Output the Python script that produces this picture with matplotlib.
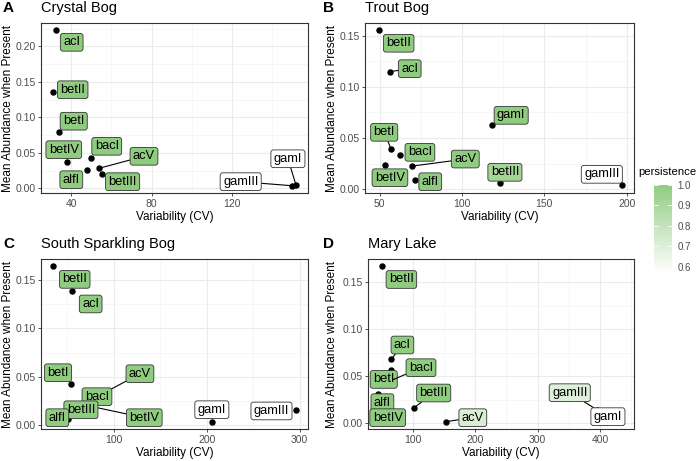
import numpy as np
import matplotlib
matplotlib.use("Agg")
import matplotlib.pyplot as plt
from matplotlib.colors import LinearSegmentedColormap, Normalize
from matplotlib.ticker import AutoMinorLocator, MultipleLocator

plt.rcParams['font.family'] = ['Liberation Sans', 'DejaVu Sans']

# data per lake: clade, variability (CV), mean abundance when present, persistence
clades_a = ["acI", "betII", "betI", "betIV", "alfI", "bacI", "acV", "betIII", "gamI", "gamIII"]
cv_a = [32.4, 30.9, 33.9, 37.9, 48.1, 49.8, 53.9, 55.2, 151.7, 149.6]
abund_a = [0.2225, 0.136, 0.079, 0.0375, 0.0262, 0.0423, 0.0282, 0.0206, 0.005, 0.0037]
pers_a = [1.0, 1.0, 1.0, 1.0, 1.0, 1.0, 1.0, 1.0, 0.57, 0.57]

clades_b = ["betII", "acI", "gamI", "betI", "bacI", "betIV", "acV", "alfI", "betIII", "gamIII"]
cv_b = [49.4, 56.1, 118.3, 57.0, 62.3, 53.2, 69.8, 71.6, 123.0, 197.0]
abund_b = [0.1556, 0.115, 0.0624, 0.0389, 0.033, 0.0238, 0.0225, 0.0091, 0.0056, 0.0036]
pers_b = [1.0, 1.0, 1.0, 1.0, 1.0, 1.0, 1.0, 1.0, 0.92, 0.57]

clades_c = ["betII", "acI", "betI", "acV", "bacI", "betIV", "betIII", "alfI", "gamI", "gamIII"]
cv_c = [34.1, 54.5, 53.8, 81.7, 74.2, 67.0, 58.0, 50.9, 205.4, 296.5]
abund_c = [0.1637, 0.1384, 0.0429, 0.0295, 0.0244, 0.0213, 0.013, 0.0069, 0.0038, 0.0159]
pers_c = [1.0, 1.0, 1.0, 1.0, 1.0, 1.0, 1.0, 1.0, 0.57, 0.57]

clades_d = ["betII", "acI", "betI", "bacI", "alfI", "betIV", "betIII", "acV", "gamIII", "gamI"]
cv_d = [50.8, 65.3, 64.2, 67.8, 44.4, 46.5, 101.1, 152.6, 394.9, 400.0]
abund_d = [0.167, 0.0683, 0.0561, 0.0462, 0.0313, 0.0089, 0.016, 0.0014, 0.0142, 0.0057]
pers_d = [1.0, 1.0, 1.0, 1.0, 1.0, 1.0, 1.0, 0.72, 0.70, 0.57]

# label placement (pixel offsets from the point) and which ones get a segment
offs_a = [(16, -12), (20, 2), (15, 11), (-3, 12), (-16, -10), (16, 12), (45, 12), (21, -8), (-8, 26), (-51, 4)]
seg_a = {"acV", "gamI", "gamIII"}
offs_b = [(20, -13), (20, 3), (19, 10), (-7, 17), (20, 3), (5, -13), (53, 7), (15, -2), (5, 11), (-20, 11)]
seg_b = {"acI", "betI", "acV"}
offs_c = [(22, -13), (19, -13), (-13, 11), (43, 23), (7, 5), (61, -13), (6, 3), (-11, 1), (0, 12), (-25, -1)]
seg_c = {"acV", "betIV"}
offs_d = [(19, -13), (11, 14), (-7, -9), (28, 12), (4, -9), (8, -3), (20, 15), (27, 4), (-27, 17), (8, 1)]
seg_d = {"acI", "bacI", "betIII", "acV", "gamIII"}

green = "#90cc80"
cmap = LinearSegmentedColormap.from_list("pers", ["white", green])
norm = Normalize(vmin=0.57, vmax=1.0)

W, H = 700, 461
fig = plt.figure(figsize=(7, 4.61), dpi=100)


def ax_at(l, r, t, b):
    return fig.add_axes([l / W, 1 - b / H, (r - l) / W, (b - t) / H])


panels = [
    ("A", 3, 8, "Crystal Bog", (41, 308, 23, 193), clades_a, cv_a, abund_a, pers_a, offs_a, seg_a,
     (25.1, 157.7), (-0.0066, 0.2328), 40, 0.05),
    ("B", 323, 332, "Trout Bog", (365, 634, 23, 193), clades_b, cv_b, abund_b, pers_b, offs_b, seg_b,
     (41.1, 204.4), (-0.0039, 0.1627), 50, 0.05),
    ("C", 3, 8, "South Sparkling Bog", (41, 308, 259, 429), clades_c, cv_c, abund_c, pers_c, offs_c, seg_c,
     (21.5, 308.9), (-0.0037, 0.1713), 100, 0.05),
    ("D", 323, 332, "Mary Lake", (368, 634, 259, 429), clades_d, cv_d, abund_d, pers_d, offs_d, seg_d,
     (27.7, 454.7), (-0.0064, 0.175), 100, 0.05),
]

for letter, lx, ylx, title, box, clades, cv, ab, pers, offs, segs, xl, yl, xs, ys in panels:
    ax = ax_at(*box)
    l, r, t, b = box
    ax.set_xlim(*xl)
    ax.set_ylim(*yl)
    ax.xaxis.set_major_locator(MultipleLocator(xs))
    ax.yaxis.set_major_locator(MultipleLocator(ys))
    ax.xaxis.set_minor_locator(AutoMinorLocator(2))
    ax.yaxis.set_minor_locator(AutoMinorLocator(2))
    ax.yaxis.set_major_formatter(matplotlib.ticker.FormatStrFormatter("%.2f"))
    ax.grid(which="major", color="#ebebeb", lw=0.8)
    ax.grid(which="minor", color="#f3f3f3", lw=0.5)
    ax.set_axisbelow(True)
    for s in ax.spines.values():
        s.set_color("#333333")
        s.set_linewidth(0.8)
    ax.tick_params(which="major", length=2.5, width=0.6, color="#333333",
                   labelsize=7.5, labelcolor="#4d4d4d", pad=1.5)
    ax.tick_params(which="minor", length=0)
    ax.set_xlabel("Variability (CV)", fontsize=8.5, labelpad=2)
    ax.set_ylabel("Mean Abundance when Present", fontsize=8.5, va="center")
    ax.yaxis.set_label_coords((ylx - l) / (r - l), 0.5)
    ax.scatter(cv, ab, s=13, color="black", zorder=3)
    for name, x, y, p, (dx, dy) in zip(clades, cv, ab, pers, offs):
        arrow = None
        if name in segs:
            arrow = dict(arrowstyle="-", color="black", lw=0.8, shrinkA=0, shrinkB=0)
        ax.annotate(name, (x, y), xytext=(dx, dy), textcoords="offset pixels",
                    ha="center", va="center", fontsize=9.3, zorder=4,
                    bbox=dict(boxstyle="round,pad=0.22,rounding_size=0.2",
                              fc=cmap(norm(p)), ec="#333333", lw=0.6),
                    arrowprops=arrow)
    fig.text(lx / W, 1 - (t - 15) / H, letter, fontsize=11, fontweight="bold", va="center")
    fig.text(l / W, 1 - (t - 15) / H, title, fontsize=10.5, va="center")

# colour bar
cax = ax_at(654, 672, 185, 273)
grad = np.linspace(0.57, 1.0, 200).reshape(-1, 1)
cax.imshow(grad, aspect="auto", cmap=cmap, norm=norm, origin="lower",
           extent=[0, 1, 0.57, 1.0])
cax.set_xlim(0, 1)
cax.set_ylim(0.57, 1.0)
cax.set_xticks([])
cbar_ticks = [0.6, 0.7, 0.8, 0.9, 1.0]
cax.set_yticks(cbar_ticks)
cax.set_yticklabels(["0.6", "0.7", "0.8", "0.9", "1.0"])
cax.yaxis.tick_right()
cax.tick_params(axis="y", length=0, labelsize=7, labelcolor="#4d4d4d", pad=4)
for v in cbar_ticks:
    cax.plot([0, 0.2], [v, v], color="white", lw=0.6)
    cax.plot([0.8, 1], [v, v], color="white", lw=0.6)
for s in cax.spines.values():
    s.set_visible(False)
fig.text(638 / W, 1 - 172 / H, "persistence", fontsize=8.2, va="center")

fig.savefig("out.png", dpi=100)
